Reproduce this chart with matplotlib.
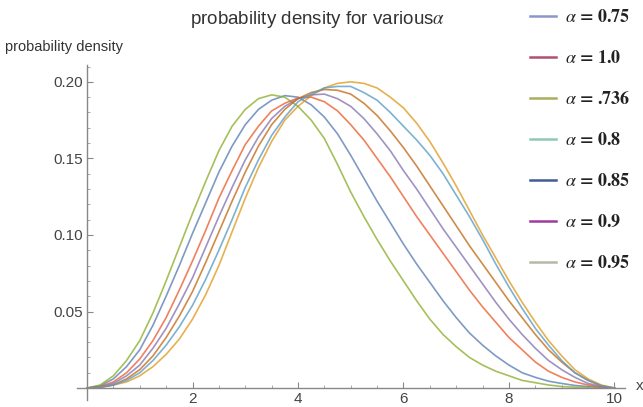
import matplotlib
matplotlib.use('Agg')
from matplotlib import pyplot as plt
from matplotlib.lines import Line2D
from matplotlib.ticker import MultipleLocator

# x positions the curves were read at (every 0.25)
x = [i / 4 for i in range(41)]

# densities, one list per alpha (legend order)
a_075 = [0, .0015, .006, .014, .025, .041, .060, .080, .101, .121, .141, .158, .172, .182, .188, .191,
         .190, .185, .177, .166, .152, .137, .122, .108, .094, .081, .069, .057, .046, .036, .028,
         .021, .015, .010, .007, .0045, .003, .0017, .001, .0003, 0]
a_100 = [0, .0004, .002, .004, .008, .014, .022, .032, .045, .061, .080, .102, .124, .144, .161, .175,
         .184, .191, .196, .199, .200, .199, .196, .190, .183, .173, .161, .147, .132, .116, .100,
         .085, .070, .056, .043, .031, .021, .012, .006, .002, 0]
a_0736 = [0, .002, .008, .018, .031, .049, .070, .092, .114, .135, .155, .171, .182, .189, .1915, .190,
          .184, .175, .163, .146, .128, .112, .097, .083, .070, .057, .045, .035, .027, .020, .015,
          .011, .008, .005, .0035, .002, .001, .0006, .0003, .0001, 0]
a_080 = [0, .001, .004, .010, .019, .031, .046, .064, .083, .103, .124, .142, .159, .171, .181, .186,
         .1895, .190, .187, .181, .172, .162, .150, .138, .125, .112, .100, .088, .076, .064, .053,
         .043, .033, .025, .017, .011, .007, .004, .002, .0006, 0]
a_085 = [0, .0008, .003, .008, .015, .026, .039, .055, .072, .092, .112, .131, .149, .164, .176, .184,
         .189, .1915, .192, .189, .184, .176, .166, .155, .142, .130, .117, .104, .092, .080, .068,
         .056, .045, .035, .026, .018, .012, .007, .003, .001, 0]
a_090 = [0, .0006, .002, .006, .012, .021, .033, .047, .063, .082, .102, .122, .141, .158, .172, .182,
         .189, .193, .195, .1945, .192, .186, .178, .168, .157, .145, .132, .119, .106, .093, .081,
         .069, .057, .046, .035, .025, .017, .010, .005, .0015, 0]
a_095 = [0, .0005, .002, .005, .010, .018, .028, .040, .054, .071, .090, .110, .131, .149, .165, .177,
         .187, .192, .196, .197, .197, .193, .188, .180, .171, .162, .152, .140, .126, .112, .097,
         .081, .066, .052, .039, .028, .018, .010, .005, .0015, 0]

labels = ['0.75', '1.0', '.736', '0.8', '0.85', '0.9', '0.95']
series = [a_075, a_100, a_0736, a_080, a_085, a_090, a_095]

# curve colours (Mathematica default) and the colours of the pasted legend
curve_colors = ['#5E81B5', '#E19C24', '#8FB032', '#EB6235', '#8778B3', '#C56E1A', '#5D9EC7']
legend_colors = ['#8c96c8', '#b05070', '#a8b060', '#90c8b8', '#405c94', '#9c3c9c', '#b8b8a8']

plt.rcParams['mathtext.fontset'] = 'stix'
plt.rcParams['font.family'] = ['Liberation Sans', 'DejaVu Sans']

fig = plt.figure(figsize=(6.43, 4.07), dpi=100)
ax = fig.add_axes([77 / 643, 7 / 407, (625 - 77) / 643, (400 - 65) / 407])

for ys, c in zip(series, curve_colors):
    ax.plot(x, ys, color=c, lw=1.2, alpha=0.8)

ax.set_xlim(-0.19, 10.2)
ax.set_ylim(-0.0078, 0.211)

ax.spines['left'].set_position(('data', 0))
ax.spines['bottom'].set_position(('data', 0))
ax.spines['top'].set_visible(False)
ax.spines['right'].set_visible(False)
for s in ('left', 'bottom'):
    ax.spines[s].set_color('#888888')
    ax.spines[s].set_linewidth(1.0)

ax.set_xticks([2, 4, 6, 8, 10])
ax.set_yticks([0.05, 0.10, 0.15, 0.20])
ax.set_yticklabels(['0.05', '0.10', '0.15', '0.20'])
ax.xaxis.set_minor_locator(MultipleLocator(0.5))
ax.yaxis.set_minor_locator(MultipleLocator(0.01))
ax.tick_params(which='major', direction='in', length=4, color='#888888', labelsize=11,
               labelcolor='#444444', pad=3)
ax.tick_params(which='minor', direction='in', length=2, color='#999999')

fig.text(5 / 643, 1 - 47 / 407, 'probability density', fontsize=10.5, color='#333333',
         va='center', ha='left')
fig.text(190 / 643, 1 - 19 / 407, r'probability density for various$\alpha$', fontsize=13.5,
         color='#333333', va='center', ha='left')
fig.text(636 / 643, 1 - 386 / 407, 'x', fontsize=11, color='#444444', va='center', ha='left')

handles = [Line2D([], [], color=c, lw=1.8) for c in legend_colors]
leg = fig.legend(handles, [r'$\alpha$ = ' + s for s in labels], loc='upper left',
                 bbox_to_anchor=(514 / 643, 1.017), frameon=False,
                 prop={'family': 'STIXGeneral', 'size': 13, 'weight': 'bold'},
                 labelspacing=1.33, handlelength=1.4, handletextpad=0.55)
for t in leg.get_texts():
    t.set_color('#222222')

fig.savefig('out.png', dpi=100)
